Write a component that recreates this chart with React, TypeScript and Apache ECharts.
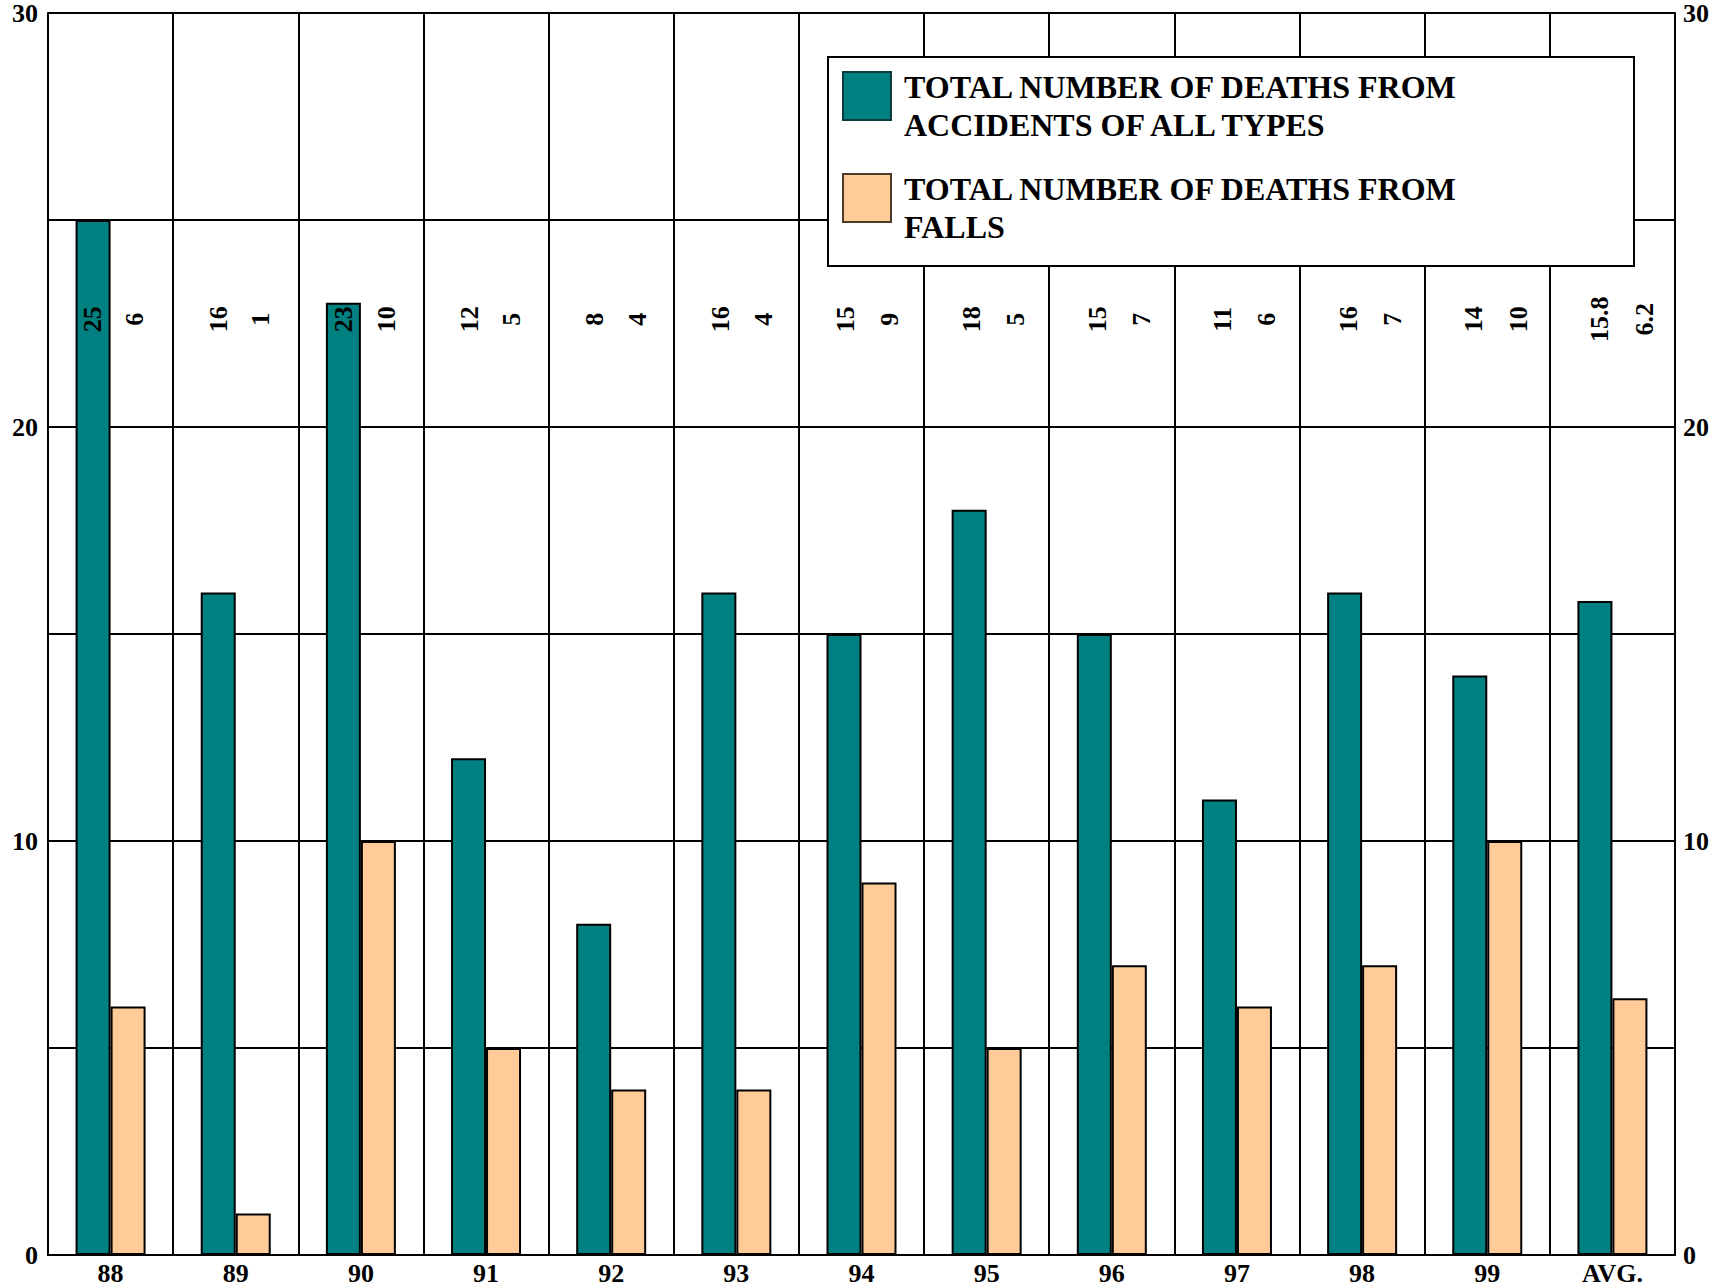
import React, { useEffect, useRef } from "react";
import * as echarts from "echarts";

const categories = ["88", "89", "90", "91", "92", "93", "94", "95", "96", "97", "98", "99", "AVG."];
const accidents = [25, 16, 23, 12, 8, 16, 15, 18, 15, 11, 16, 14, 15.8];
const falls = [6, 1, 10, 5, 4, 4, 9, 5, 7, 6, 7, 10, 6.2];
const seriesNames = [
  "TOTAL NUMBER OF DEATHS FROM\nACCIDENTS OF ALL TYPES",
  "TOTAL NUMBER OF DEATHS FROM\nFALLS",
];
const Y_MIN = 0;
const Y_MAX = 30;
const Y_STEP = 5;
const LABEL_LEVEL = 22.6;

const TEAL = "#008080";
const PEACH = "#FFCC99";
const FONT = "'Liberation Serif', 'Times New Roman', serif";

export default function App() {
  const ref = useRef<HTMLDivElement>(null);
  useEffect(() => {
    if (!ref.current) return;
    const chart = echarts.init(ref.current, undefined, { renderer: "svg" });
    const axisText = { color: "#000", fontFamily: FONT, fontWeight: "bold" as const, fontSize: 26 };
    const yLabelFmt = (v: number) => (v % 10 === 0 ? String(v) : "");
    const labelStyle = {
      show: true,
      rotate: 90,
      position: "inside",
      align: "center",
      verticalAlign: "middle",
      color: "#000",
      opacity: 1,
      fontFamily: FONT,
      fontWeight: "bold",
      fontSize: 26,
    };
    chart.setOption({
      animation: false,
      backgroundColor: "#fff",
      grid: { left: 48, top: 13, right: 56, bottom: 33, containLabel: false },
      xAxis: {
        type: "category",
        data: categories,
        axisLine: { show: true, lineStyle: { color: "#000", width: 2 } },
        axisTick: { show: false },
        axisLabel: { ...axisText, margin: 5, interval: 0 },
        splitLine: { show: true, interval: 0, lineStyle: { color: "#000", width: 2 } },
      },
      yAxis: [
        {
          type: "value",
          min: Y_MIN,
          max: Y_MAX,
          interval: Y_STEP,
          position: "left",
          axisLine: { show: true, lineStyle: { color: "#000", width: 2 } },
          axisTick: { show: false },
          axisLabel: { ...axisText, margin: 10, formatter: yLabelFmt },
          splitLine: { show: true, lineStyle: { color: "#000", width: 2 } },
        },
        {
          type: "value",
          min: Y_MIN,
          max: Y_MAX,
          interval: Y_STEP,
          position: "right",
          axisLine: { show: true, lineStyle: { color: "#000", width: 2 } },
          axisTick: { show: false },
          axisLabel: { ...axisText, margin: 8, formatter: yLabelFmt },
          splitLine: { show: false },
        },
      ],
      series: [
        {
          name: seriesNames[0],
          type: "bar",
          data: accidents,
          barWidth: 35,
          barGap: "0%",
          itemStyle: { color: TEAL, borderColor: "#000", borderWidth: 2 },
        },
        {
          name: seriesNames[1],
          type: "bar",
          data: falls,
          barWidth: 35,
          barGap: "0%",
          itemStyle: { color: PEACH, borderColor: "#000", borderWidth: 2 },
        },
        {
          type: "scatter",
          z: 10,
          symbolSize: 1,
          itemStyle: { color: "rgba(0,0,0,0)" },
          data: categories.map((c, i) => ({
            value: [i, LABEL_LEVEL],
            label: { offset: [0, -18 + 0.4 * i] },
          })),
          label: { ...labelStyle, formatter: (p: any) => String(accidents[p.dataIndex]) },
          silent: true,
        },
        {
          type: "scatter",
          z: 10,
          symbolSize: 1,
          itemStyle: { color: "rgba(0,0,0,0)" },
          data: categories.map((c, i) => ({
            value: [i, LABEL_LEVEL],
            label: { offset: [0, 24 + 0.65 * i] },
          })),
          label: { ...labelStyle, formatter: (p: any) => String(falls[p.dataIndex]) },
          silent: true,
        },
      ],
      graphic: [
        {
          type: "rect",
          z: 100,
          shape: { x: 828, y: 57, width: 806, height: 209 },
          style: { fill: "#fff", stroke: "#000", lineWidth: 2 },
        },
        {
          type: "rect",
          z: 101,
          shape: { x: 843, y: 72, width: 48, height: 48 },
          style: { fill: TEAL, stroke: "#0b3b3b", lineWidth: 2 },
        },
        {
          type: "rect",
          z: 101,
          shape: { x: 843, y: 174, width: 48, height: 48 },
          style: { fill: PEACH, stroke: "#4a3a2a", lineWidth: 2 },
        },
        {
          type: "text",
          z: 101,
          x: 904,
          y: 68,
          style: {
            text: seriesNames[0],
            fill: "#000",
            font: `bold 32px ${FONT}`,
            lineHeight: 38,
            verticalAlign: "top",
            align: "left",
          },
        },
        {
          type: "text",
          z: 101,
          x: 904,
          y: 170,
          style: {
            text: seriesNames[1],
            fill: "#000",
            font: `bold 32px ${FONT}`,
            lineHeight: 38,
            verticalAlign: "top",
            align: "left",
          },
        },
      ],
    });
    return () => chart.dispose();
  }, []);
  return (
    <div
      ref={ref}
      style={{ position: "absolute", left: 0, top: 0, width: 1731, height: 1288, background: "#fff" }}
    />
  );
}
